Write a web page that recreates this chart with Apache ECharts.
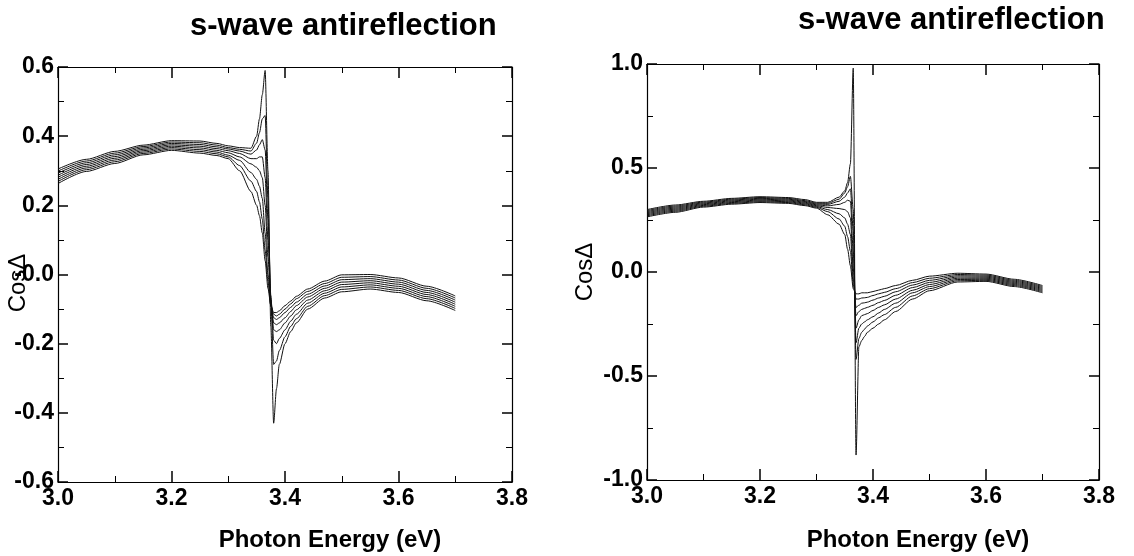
<!DOCTYPE html>
<html>
<head>
<meta charset="utf-8">
<script src="https://cdn.jsdelivr.net/npm/echarts@6/dist/echarts.min.js"></script>
<style>
html,body{margin:0;padding:0;background:#fff;}
#chart{width:1134px;height:556px;}
</style>
</head>
<body>
<div id="chart"></div>
<script>
// Photon energy grid (eV), shared by all curves
const energy = [3.00, 3.05, 3.10, 3.15, 3.20, 3.25, 3.28, 3.30, 3.32, 3.34, 3.35, 3.355, 3.36, 3.365, 3.37, 3.375, 3.38, 3.385, 3.39, 3.40, 3.41, 3.42, 3.44, 3.47, 3.50, 3.55, 3.60, 3.65, 3.70];

// Left panel: Cos Δ curves
const left0 = [0.305, 0.333, 0.356, 0.374, 0.387, 0.386, 0.379, 0.372, 0.367, 0.365, 0.40, 0.45, 0.52, 0.59, 0.30, -0.15, -0.43, -0.33, -0.26, -0.20, -0.165, -0.14, -0.10, -0.068, -0.050, -0.042, -0.052, -0.076, -0.104];
const left1 = [0.299, 0.328, 0.351, 0.370, 0.383, 0.381, 0.374, 0.367, 0.362, 0.357, 0.38, 0.41, 0.45, 0.46, 0.22, -0.08, -0.26, -0.25, -0.22, -0.18, -0.15, -0.128, -0.092, -0.061, -0.043, -0.036, -0.046, -0.070, -0.098];
const left2 = [0.293, 0.323, 0.346, 0.366, 0.379, 0.376, 0.369, 0.363, 0.357, 0.348, 0.36, 0.375, 0.39, 0.36, 0.16, -0.06, -0.19, -0.20, -0.185, -0.16, -0.135, -0.115, -0.083, -0.054, -0.036, -0.030, -0.040, -0.064, -0.092];
const left3 = [0.287, 0.318, 0.341, 0.362, 0.375, 0.371, 0.364, 0.358, 0.350, 0.335, 0.335, 0.34, 0.34, 0.28, 0.10, -0.07, -0.16, -0.165, -0.16, -0.14, -0.12, -0.102, -0.074, -0.047, -0.029, -0.024, -0.034, -0.058, -0.086];
const left4 = [0.281, 0.313, 0.336, 0.358, 0.371, 0.366, 0.359, 0.352, 0.340, 0.320, 0.31, 0.30, 0.28, 0.20, 0.05, -0.08, -0.14, -0.145, -0.14, -0.125, -0.107, -0.090, -0.065, -0.040, -0.022, -0.018, -0.028, -0.052, -0.080];
const left5 = [0.275, 0.308, 0.331, 0.354, 0.367, 0.361, 0.354, 0.345, 0.330, 0.295, 0.275, 0.255, 0.22, 0.12, 0.00, -0.09, -0.125, -0.13, -0.125, -0.11, -0.095, -0.080, -0.057, -0.033, -0.015, -0.012, -0.022, -0.046, -0.074];
const left6 = [0.269, 0.303, 0.326, 0.350, 0.363, 0.356, 0.349, 0.340, 0.315, 0.27, 0.24, 0.21, 0.16, 0.07, -0.02, -0.09, -0.115, -0.12, -0.115, -0.10, -0.085, -0.070, -0.049, -0.026, -0.008, -0.006, -0.016, -0.040, -0.068];
const left7 = [0.263, 0.298, 0.321, 0.346, 0.359, 0.351, 0.344, 0.335, 0.300, 0.24, 0.20, 0.17, 0.12, 0.04, -0.04, -0.09, -0.11, -0.11, -0.105, -0.09, -0.077, -0.063, -0.042, -0.019, -0.001, 0.000, -0.010, -0.034, -0.062];

// Right panel: Cos Δ curves
const right0 = [0.300, 0.322, 0.340, 0.354, 0.362, 0.358, 0.348, 0.335, 0.335, 0.36, 0.39, 0.43, 0.52, 0.98, -0.88, -0.36, -0.33, -0.31, -0.29, -0.27, -0.25, -0.23, -0.19, -0.13, -0.09, -0.048, -0.045, -0.07, -0.10];
const right1 = [0.295, 0.317, 0.336, 0.350, 0.358, 0.354, 0.343, 0.331, 0.330, 0.35, 0.38, 0.41, 0.46, 0.30, -0.42, -0.32, -0.29, -0.275, -0.26, -0.24, -0.22, -0.205, -0.17, -0.115, -0.08, -0.042, -0.040, -0.065, -0.095];
const right2 = [0.290, 0.312, 0.332, 0.346, 0.354, 0.350, 0.339, 0.327, 0.325, 0.34, 0.36, 0.38, 0.40, 0.20, -0.34, -0.27, -0.25, -0.24, -0.23, -0.215, -0.197, -0.18, -0.15, -0.10, -0.07, -0.036, -0.035, -0.06, -0.09];
const right3 = [0.285, 0.307, 0.328, 0.342, 0.350, 0.346, 0.335, 0.323, 0.318, 0.325, 0.335, 0.345, 0.34, 0.10, -0.27, -0.23, -0.21, -0.205, -0.20, -0.185, -0.17, -0.158, -0.13, -0.088, -0.06, -0.03, -0.03, -0.055, -0.085];
const right4 = [0.280, 0.302, 0.324, 0.338, 0.346, 0.342, 0.331, 0.319, 0.31, 0.305, 0.30, 0.29, 0.26, 0.02, -0.21, -0.19, -0.18, -0.175, -0.17, -0.16, -0.147, -0.137, -0.112, -0.075, -0.05, -0.024, -0.025, -0.05, -0.08];
const right5 = [0.275, 0.297, 0.320, 0.334, 0.342, 0.338, 0.327, 0.315, 0.30, 0.28, 0.26, 0.23, 0.18, -0.03, -0.17, -0.16, -0.15, -0.148, -0.145, -0.135, -0.125, -0.117, -0.095, -0.063, -0.04, -0.018, -0.02, -0.045, -0.075];
const right6 = [0.270, 0.292, 0.316, 0.330, 0.338, 0.334, 0.323, 0.311, 0.29, 0.255, 0.22, 0.17, 0.10, -0.06, -0.13, -0.13, -0.125, -0.124, -0.122, -0.113, -0.105, -0.098, -0.08, -0.051, -0.03, -0.012, -0.015, -0.04, -0.07];
const right7 = [0.265, 0.287, 0.312, 0.326, 0.334, 0.330, 0.319, 0.307, 0.275, 0.23, 0.18, 0.11, 0.03, -0.08, -0.105, -0.105, -0.10, -0.10, -0.10, -0.094, -0.087, -0.08, -0.065, -0.04, -0.02, -0.006, -0.01, -0.035, -0.065];

const leftCurves = [left0, left1, left2, left3, left4, left5, left6, left7];
const rightCurves = [right0, right1, right2, right3, right4, right5, right6, right7];

// Text
const panelTitle = 's-wave antireflection';
const xName = 'Photon Energy (eV)';
const yName = 'CosΔ';

const FONT = '"Liberation Sans", Arial, Helvetica, sans-serif';
const chart = echarts.init(document.getElementById('chart'), null, {renderer: 'canvas'});

const labelStyle = {color: '#000', fontSize: 23, fontWeight: 'bold', fontFamily: FONT};
function xAx(grid, pos, showLabel) {
  return {
    type: 'value', gridIndex: grid, position: pos, min: 3.0, max: 3.8, interval: 0.2,
    axisLine: {show: true, onZero: false, lineStyle: {color: '#000', width: 1.2}},
    axisTick: {show: true, inside: true, length: 11, lineStyle: {color: '#000', width: 1.5}},
    minorTick: {show: true, splitNumber: 2, length: 6, lineStyle: {color: '#000', width: 1}},
    splitLine: {show: false}, minorSplitLine: {show: false},
    axisLabel: Object.assign({show: showLabel, margin: 5, formatter: v => v.toFixed(1)}, labelStyle)
  };
}
function yAx(grid, pos, showLabel, min, max, interval, fmt) {
  return {
    type: 'value', gridIndex: grid, position: pos, min: min, max: max, interval: interval,
    axisLine: {show: true, onZero: false, lineStyle: {color: '#000', width: 1.2}},
    axisTick: {show: true, inside: true, length: 10, lineStyle: {color: '#000', width: 1.5}},
    minorTick: {show: true, splitNumber: 2, length: 6, lineStyle: {color: '#000', width: 1}},
    splitLine: {show: false}, minorSplitLine: {show: false},
    axisLabel: Object.assign({show: showLabel, margin: 4, formatter: fmt}, labelStyle)
  };
}
const fmtLeft = v => (Math.abs(v) < 1e-9 ? '-0.0' : v.toFixed(1));
const fmtRight = v => (Math.abs(v) < 1e-9 ? '0.0' : v.toFixed(1));

const series = [];
leftCurves.forEach(arr => series.push({
  type: 'line', xAxisIndex: 0, yAxisIndex: 0, showSymbol: false, silent: true,
  smooth: 0.25, smoothMonotone: 'x',
  lineStyle: {color: '#111', width: 1}, data: energy.map((e, i) => [e, arr[i]])
}));
rightCurves.forEach(arr => series.push({
  type: 'line', xAxisIndex: 2, yAxisIndex: 2, showSymbol: false, silent: true,
  smooth: 0.25, smoothMonotone: 'x',
  lineStyle: {color: '#111', width: 1}, data: energy.map((e, i) => [e, arr[i]])
}));

const option = {
  animation: false,
  backgroundColor: '#fff',
  grid: [
    {left: 58, top: 67, width: 454, height: 415},
    {left: 647, top: 64, width: 452, height: 416}
  ],
  xAxis: [xAx(0, 'bottom', true), xAx(0, 'top', false), xAx(1, 'bottom', true), xAx(1, 'top', false)],
  yAxis: [
    yAx(0, 'left', true, -0.6, 0.6, 0.2, fmtLeft), yAx(0, 'right', false, -0.6, 0.6, 0.2, fmtLeft),
    yAx(1, 'left', true, -1.0, 1.0, 0.5, fmtRight), yAx(1, 'right', false, -1.0, 1.0, 0.5, fmtRight)
  ],
  series: series,
  graphic: [
    {type: 'text', left: 190, top: 11, style: {text: panelTitle, fill: '#000', font: 'bold 31px ' + FONT}},
    {type: 'text', left: 798, top: 5, style: {text: panelTitle, fill: '#000', font: 'bold 31px ' + FONT}},
    {type: 'text', x: 330, y: 540, style: {text: xName, fill: '#000', font: 'bold 24px ' + FONT, align: 'center', verticalAlign: 'middle'}},
    {type: 'text', x: 918, y: 540, style: {text: xName, fill: '#000', font: 'bold 24px ' + FONT, align: 'center', verticalAlign: 'middle'}},
    {type: 'text', x: 18, y: 283, rotation: Math.PI / 2, style: {text: yName, fill: '#000', font: '24px ' + FONT, align: 'center', verticalAlign: 'middle'}},
    {type: 'text', x: 585, y: 272, rotation: Math.PI / 2, style: {text: yName, fill: '#000', font: '24px ' + FONT, align: 'center', verticalAlign: 'middle'}}
  ]
};
chart.setOption(option);
</script>
</body>
</html>
